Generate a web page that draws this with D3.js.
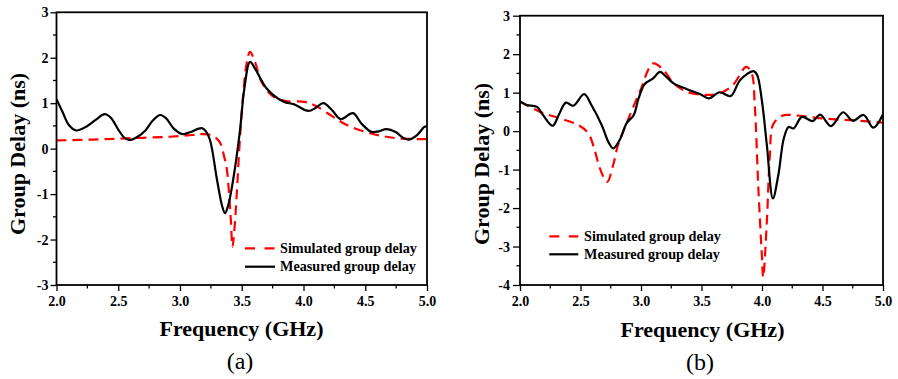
<!DOCTYPE html>
<html>
<head>
<meta charset="utf-8">
<script src="https://cdn.jsdelivr.net/npm/d3@7"></script>
<style>
  html, body { margin: 0; padding: 0; background: #fff; }
  svg { display: block; }
</style>
</head>
<body>
<svg id="chart" width="898" height="379"></svg>
<script>
// ---------- Data: panel (a) ----------
const aSimFreq  = [2.00, 2.30, 2.60, 2.90, 3.10, 3.18, 3.26, 3.32, 3.36, 3.38, 3.41, 3.425, 3.44, 3.458, 3.486, 3.51, 3.54, 3.567, 3.607, 3.66, 3.74, 3.85, 4.01, 4.10, 4.24, 4.35, 4.54, 4.75, 5.00];
const aSimDelay = [0.18, 0.20, 0.23, 0.26, 0.30, 0.32, 0.29, 0.15, -0.20, -0.47, -1.50, -2.16, -1.80, -1.06, 0.26, 1.14, 1.88, 2.13, 1.91, 1.47, 1.18, 1.05, 1.03, 0.94, 0.70, 0.52, 0.34, 0.23, 0.21];

const aMeasFreq  = [2.00, 2.05, 2.10, 2.16, 2.25, 2.32, 2.39, 2.44, 2.50, 2.55, 2.59, 2.65, 2.72, 2.78, 2.84, 2.89, 2.95, 3.02, 3.08, 3.176, 3.21, 3.243, 3.30, 3.34, 3.364, 3.39, 3.43, 3.486, 3.52, 3.567, 3.61, 3.70, 3.84, 3.92, 4.04, 4.10, 4.16, 4.23, 4.30, 4.40, 4.47, 4.55, 4.61, 4.67, 4.75, 4.80, 4.85, 4.92, 4.98, 5.00];
const aMeasDelay = [1.09, 0.80, 0.52, 0.40, 0.50, 0.64, 0.76, 0.68, 0.42, 0.24, 0.19, 0.25, 0.40, 0.62, 0.74, 0.66, 0.44, 0.32, 0.36, 0.45, 0.38, 0.19, -0.69, -1.25, -1.42, -1.25, -0.69, 0.41, 1.30, 1.91, 1.75, 1.33, 1.03, 0.98, 0.83, 0.90, 1.00, 0.85, 0.65, 0.78, 0.55, 0.37, 0.38, 0.43, 0.36, 0.25, 0.20, 0.30, 0.48, 0.49];

// ---------- Data: panel (b) ----------
const bSimFreq  = [2.00, 2.165, 2.33, 2.48, 2.565, 2.62, 2.66, 2.72, 2.77, 2.81, 2.88, 2.99, 3.10, 3.185, 3.27, 3.38, 3.54, 3.65, 3.76, 3.87, 3.915, 3.94, 3.97, 4.00, 4.01, 4.04, 4.065, 4.09, 4.15, 4.20, 4.31, 4.50, 4.80, 5.00];
const bSimDelay = [0.77, 0.50, 0.33, 0.16, -0.06, -0.53, -0.97, -1.32, -0.88, -0.36, 0.20, 1.02, 1.76, 1.59, 1.24, 1.02, 0.94, 0.98, 1.20, 1.67, 1.50, 0.68, -1.49, -3.30, -3.80, -2.35, -0.62, 0.16, 0.37, 0.42, 0.40, 0.33, 0.27, 0.22];

const bMeasFreq  = [2.00, 2.055, 2.14, 2.19, 2.27, 2.32, 2.38, 2.44, 2.53, 2.59, 2.675, 2.73, 2.77, 2.83, 2.88, 2.94, 2.98, 3.03, 3.10, 3.157, 3.21, 3.27, 3.38, 3.49, 3.56, 3.65, 3.74, 3.82, 3.93, 3.96, 4.00, 4.04, 4.09, 4.135, 4.18, 4.22, 4.26, 4.33, 4.42, 4.48, 4.57, 4.67, 4.75, 4.84, 4.92, 5.00];
const bMeasDelay = [0.77, 0.68, 0.63, 0.42, 0.14, 0.42, 0.74, 0.66, 0.96, 0.68, 0.16, -0.28, -0.45, -0.19, 0.20, 0.42, 0.85, 1.22, 1.37, 1.54, 1.41, 1.24, 1.09, 0.96, 0.85, 1.01, 0.91, 1.33, 1.56, 1.46, 0.77, -0.36, -1.75, -1.14, -0.19, 0.11, 0.07, 0.37, 0.26, 0.43, 0.13, 0.49, 0.27, 0.42, 0.09, 0.44];

// ---------- Tick labels ----------
const xTicks  = [2.0, 2.5, 3.0, 3.5, 4.0, 4.5, 5.0];
const aYTicks = [-3, -2, -1, 0, 1, 2, 3];
const bYTicks = [-4, -3, -2, -1, 0, 1, 2, 3];

const legendLabels = ["Simulated group delay", "Measured group delay"];
const xTitle = "Frequency (GHz)";
const yTitle = "Group Delay (ns)";

// ---------- Drawing ----------
const FONT = "'Liberation Serif', 'Times New Roman', Times, 'DejaVu Serif', serif";
const svg = d3.select("#chart").attr("font-family", FONT);
const RED = "#ff0000";

function zip(fs, vs) { return fs.map((f, i) => [f, vs[i]]); }

function panel(cfg) {
  const x = d3.scaleLinear().domain([2, 5]).range([cfg.left, cfg.right]);
  const y = d3.scaleLinear().domain(cfg.yDomain).range([cfg.bottom, cfg.top]);
  const g = svg.append("g").attr("font-family", FONT);

  // minor ticks
  const xMinor = d3.range(2.25, 5, 0.5);
  g.append("g").selectAll("line").data(xMinor).join("line")
    .attr("x1", d => x(d)).attr("x2", d => x(d))
    .attr("y1", cfg.bottom).attr("y2", cfg.bottom + 3.5)
    .attr("stroke", "#000").attr("stroke-width", 1.3);
  const yMinor = d3.range(cfg.yDomain[0] + 0.5, cfg.yDomain[1], 1);
  g.append("g").selectAll("line").data(yMinor).join("line")
    .attr("x1", cfg.left - 3.5).attr("x2", cfg.left)
    .attr("y1", d => y(d)).attr("y2", d => y(d))
    .attr("stroke", "#000").attr("stroke-width", 1.3);

  // axes
  const xAxis = d3.axisBottom(x).tickValues(xTicks).tickFormat(d3.format(".1f"))
    .tickSize(6).tickSizeOuter(0).tickPadding(5);
  const gx = g.append("g").attr("transform", `translate(0,${cfg.bottom})`).call(xAxis);
  const yAxis = d3.axisLeft(y).tickValues(cfg.yTicks).tickFormat(d3.format("d"))
    .tickSize(cfg.yTickSize).tickSizeOuter(0).tickPadding(cfg.yTickPad);
  const gy = g.append("g").attr("transform", `translate(${cfg.left},0)`).call(yAxis);
  [gx, gy].forEach(a => {
    a.attr("font-family", FONT).attr("font-size", 14).attr("font-weight", "bold");
    a.select(".domain").remove();
    a.selectAll(".tick line").attr("stroke", "#000").attr("stroke-width", 1.3);
    a.selectAll(".tick text").attr("fill", "#000");
  });
  gy.selectAll(".tick text").text(d => d < 0 ? "-" + Math.abs(d) : d);

  // clip
  const clipId = "clip" + cfg.id;
  svg.append("clipPath").attr("id", clipId).append("rect")
    .attr("x", cfg.left).attr("y", cfg.top - 2)
    .attr("width", cfg.right - cfg.left).attr("height", cfg.bottom - cfg.top + 2);

  const line = d3.line().x(d => x(d[0])).y(d => y(d[1])).curve(d3.curveCatmullRom.alpha(0.5));

  g.append("path").datum(zip(cfg.simF, cfg.simV))
    .attr("d", line).attr("fill", "none").attr("stroke", RED)
    .attr("stroke-width", 2.2).attr("stroke-dasharray", "10,6")
    .attr("clip-path", `url(#${clipId})`);
  g.append("path").datum(zip(cfg.measF, cfg.measV))
    .attr("d", line).attr("fill", "none").attr("stroke", "#000")
    .attr("stroke-width", 2.2).attr("clip-path", `url(#${clipId})`);

  // frame
  g.append("rect").attr("x", cfg.left).attr("y", cfg.top)
    .attr("width", cfg.right - cfg.left).attr("height", cfg.bottom - cfg.top)
    .attr("fill", "none").attr("stroke", "#000").attr("stroke-width", 1.8);

  // legend
  const L = cfg.legend;
  g.append("line").attr("x1", L.x1).attr("x2", L.x2).attr("y1", L.y1).attr("y2", L.y1)
    .attr("stroke", RED).attr("stroke-width", 2.2).attr("stroke-dasharray", "10,9.5");
  g.append("line").attr("x1", L.x1).attr("x2", L.x2).attr("y1", L.y2).attr("y2", L.y2)
    .attr("stroke", "#000").attr("stroke-width", 2.2);
  g.append("text").attr("x", L.tx).attr("y", L.y1 + 4.5).text(legendLabels[0])
    .attr("font-family", FONT).attr("font-weight", "bold").attr("font-size", 14.2);
  g.append("text").attr("x", L.tx).attr("y", L.y2 + 4.5).text(legendLabels[1])
    .attr("font-family", FONT).attr("font-weight", "bold").attr("font-size", 14.2);

  // titles
  g.append("text").attr("x", cfg.xTitleX).attr("y", cfg.xTitleY).attr("text-anchor", "middle")
    .attr("font-family", FONT).attr("font-weight", "bold").attr("font-size", 22).text(xTitle);
  g.append("text").attr("transform", `translate(${cfg.yTitleX},${cfg.yTitleY}) rotate(-90)`)
    .attr("text-anchor", "middle").attr("font-family", FONT)
    .attr("font-weight", "bold").attr("font-size", 22).text(yTitle);
  g.append("text").attr("x", cfg.capX).attr("y", cfg.capY).attr("text-anchor", "middle")
    .attr("font-family", FONT).attr("font-size", 24).text(cfg.caption);
}

panel({
  id: "a", left: 56.5, right: 427, top: 12.3, bottom: 285, yDomain: [-3, 3], yTicks: aYTicks,
  yTickSize: 6, yTickPad: 2,
  simF: aSimFreq, simV: aSimDelay, measF: aMeasFreq, measV: aMeasDelay,
  legend: { x1: 245, x2: 275, y1: 248.3, y2: 266.7, tx: 280 },
  xTitleX: 241.5, xTitleY: 336, yTitleX: 25, yTitleY: 154, capX: 240, capY: 369, caption: "(a)"
});

panel({
  id: "b", left: 520, right: 883, top: 15.7, bottom: 285, yDomain: [-4, 3], yTicks: bYTicks,
  yTickSize: 7, yTickPad: 3,
  simF: bSimFreq, simV: bSimDelay, measF: bMeasFreq, measV: bMeasDelay,
  legend: { x1: 549.3, x2: 578.3, y1: 236.3, y2: 254.3, tx: 584 },
  xTitleX: 702.5, xTitleY: 337, yTitleX: 489, yTitleY: 164, capX: 700, capY: 370, caption: "(b)"
});
</script>
</body>
</html>
